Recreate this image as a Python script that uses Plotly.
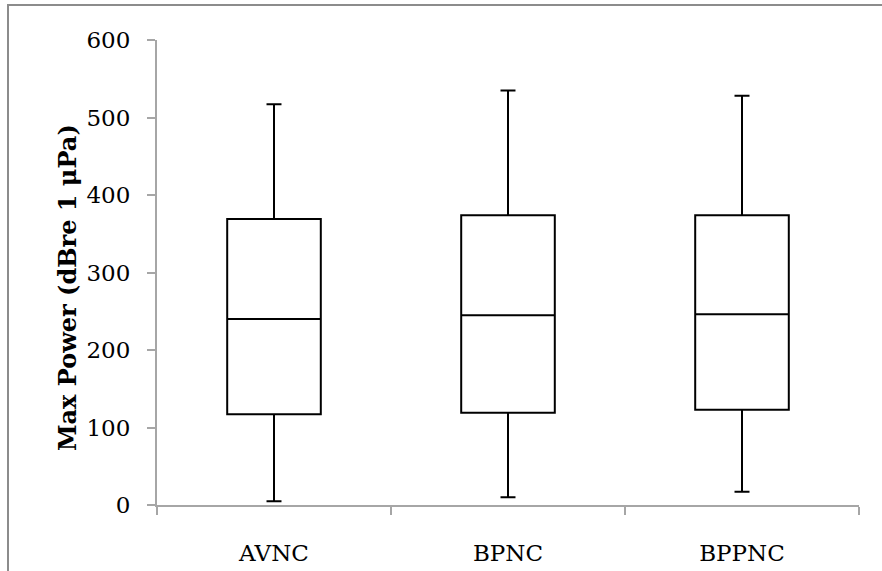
import plotly.graph_objects as go

categories = ["AVNC", "BPNC", "BPPNC"]
lower = [5, 10, 17]
q1 = [117, 119, 123]
median = [240, 245, 246]
q3 = [369, 374, 374]
upper = [517, 535, 528]
y_ticks = [0, 100, 200, 300, 400, 500, 600]

W, H = 882, 571
L, R, T, B = 157, 23, 40, 66
pw, ph = W - L - R, H - T - B

fig = go.Figure()
for i, c in enumerate(categories):
    fig.add_trace(go.Box(
        x=[c], q1=[q1[i]], median=[median[i]], q3=[q3[i]],
        lowerfence=[lower[i]], upperfence=[upper[i]],
        boxpoints=False, width=0.4, whiskerwidth=0.16,
        fillcolor="white", line=dict(color="black", width=2),
        showlegend=False, hoverinfo="skip",
    ))

axis_grey = "#a6a6a6"
fig.update_layout(
    width=W, height=H,
    margin=dict(l=L, r=R, t=T, b=B, pad=0),
    paper_bgcolor="white", plot_bgcolor="white",
    font=dict(family="DejaVu Serif", color="black"),
    xaxis=dict(
        type="category", categoryorder="array", categoryarray=categories,
        range=[-0.5, 2.5], tickson="boundaries", ticks="outside", ticklen=8,
        tickcolor=axis_grey, tickwidth=1.5, showline=True, linecolor=axis_grey,
        linewidth=2, showgrid=False, zeroline=False, automargin=False,
        tickfont=dict(size=23, family="DejaVu Serif"), ticklabelstandoff=26,
    ),
    yaxis=dict(
        range=[0, 600], tickvals=y_ticks, ticks="outside", ticklen=8,
        tickcolor=axis_grey, tickwidth=1.5, showline=True, linecolor=axis_grey,
        linewidth=2, showgrid=False, zeroline=False, automargin=False,
        tickfont=dict(size=23, family="DejaVu Serif"), ticklabelstandoff=12,
    ),
    annotations=[dict(
        text="<b>Max Power (dBre 1 μPa)</b>", textangle=-90,
        xref="paper", yref="paper",
        x=(67 - L) / pw, y=(H - B - 288) / ph,
        xanchor="center", yanchor="middle", showarrow=False,
        font=dict(size=24, family="DejaVu Serif", color="black"),
    )],
    shapes=[dict(
        type="rect", xref="paper", yref="paper",
        x0=(8 - L) / pw, x1=(W + 20 - L) / pw,
        y0=(H - B - (H + 20)) / ph, y1=(H - B - 5) / ph,
        line=dict(color="#8c8c8c", width=2), fillcolor="rgba(0,0,0,0)",
        layer="below",
    )],
)

fig.write_html("out.html")
